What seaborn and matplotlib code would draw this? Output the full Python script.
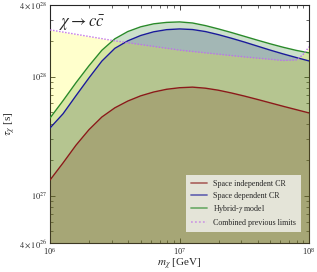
import matplotlib
matplotlib.use("Agg")
import matplotlib.pyplot as plt
import matplotlib.ticker as mticker
import seaborn as sns
import numpy as np
import pandas as pd

log_mass = [6.0, 6.1, 6.2, 6.3, 6.4, 6.5, 6.6, 6.7, 6.8, 6.9, 7.0,
            7.1, 7.2, 7.3, 7.4, 7.5, 7.6, 7.7, 7.8, 7.9, 8.0]

# log10 of the lifetime limits [s]
log_tau_hybrid = [27.652, 27.797, 27.948, 28.090, 28.221, 28.317, 28.378, 28.418, 28.443, 28.455, 28.459,
                  28.450, 28.428, 28.400, 28.370, 28.338, 28.306, 28.275, 28.246, 28.220, 28.199]
log_tau_space_dep = [27.568, 27.687, 27.839, 27.988, 28.130, 28.237, 28.300, 28.345, 28.376, 28.394, 28.400,
                     28.395, 28.378, 28.352, 28.322, 28.290, 28.256, 28.222, 28.190, 28.160, 28.131]
log_tau_space_indep = [27.131, 27.274, 27.423, 27.553, 27.660, 27.737, 27.794, 27.838, 27.870, 27.893, 27.906,
                       27.911, 27.902, 27.885, 27.862, 27.836, 27.808, 27.779, 27.750, 27.722, 27.694]

log_mass_prev = [6.0, 6.5, 7.0, 7.5, 7.8, 7.9, 7.95, 8.0]
log_tau_prev = [28.392, 28.300, 28.222, 28.165, 28.135, 28.140, 28.180, 28.250]

YMIN, YMAX = 4e26, 4e28

mass = np.power(10.0, log_mass)
mass_prev = np.power(10.0, log_mass_prev)
tau_hybrid = np.power(10.0, log_tau_hybrid)
tau_space_dep = np.power(10.0, log_tau_space_dep)
tau_space_indep = np.power(10.0, log_tau_space_indep)
tau_prev = np.power(10.0, log_tau_prev)

sns.set_style("ticks")
plt.rcParams['font.family'] = ['Liberation Serif', 'DejaVu Serif']
plt.rcParams['mathtext.fontset'] = 'stix'

fig = plt.figure(figsize=(3.17, 2.72), dpi=100)
ax = fig.add_axes([0.158, 0.107, 0.817, 0.875])

# shaded regions (yellow veil of previous limits sits over the green/blue areas)
ax.fill_between(mass, tau_hybrid, YMIN, color=(0.0, 0.4, 0.0), alpha=0.2, lw=0, zorder=1)
ax.fill_between(mass, tau_space_dep, YMIN, color=(0.0, 0.08, 0.35), alpha=0.2, lw=0, zorder=2)
ax.fill_between(mass_prev, tau_prev, YMIN, color=(1.0, 1.0, 0.0), alpha=0.2, lw=0, zorder=3)
ax.fill_between(mass, tau_space_indep, YMIN, color=(0.48, 0.30, 0.17), alpha=0.25, lw=0, zorder=4)

df = pd.DataFrame({'mass': mass, 'indep': tau_space_indep,
                   'dep': tau_space_dep, 'hybrid': tau_hybrid})
sns.lineplot(data=df, x='mass', y='indep', color='#8b1a1a', lw=1.0, ax=ax,
             label='Space independent CR', zorder=5)
sns.lineplot(data=df, x='mass', y='dep', color='#1a1a9a', lw=1.0, ax=ax,
             label='Space dependent CR', zorder=5)
sns.lineplot(data=df, x='mass', y='hybrid', color='#2a8a2a', lw=1.0, ax=ax,
             label=r'Hybrid-$\gamma$ model', zorder=5)
sns.lineplot(x=mass_prev, y=tau_prev, color='#c070e8', lw=1.0, ax=ax,
             label='Combined previous limits', zorder=5, linestyle=(0, (1, 1.2)))

ax.set_xscale('log')
ax.set_yscale('log')
ax.set_xlim(1e6, 1e8)
ax.set_ylim(YMIN, YMAX)

ax.yaxis.set_major_locator(mticker.FixedLocator([4e26, 1e27, 1e28, 4e28]))
ax.yaxis.set_major_formatter(mticker.FixedFormatter(
    [r'$4\times10^{26}$', r'$10^{27}$', r'$10^{28}$', r'$4\times10^{28}$']))
ax.yaxis.set_minor_locator(mticker.LogLocator(base=10, subs=np.arange(2, 10)))
ax.yaxis.set_minor_formatter(mticker.NullFormatter())
ax.tick_params(which='both', direction='in', top=True, right=True, labelsize=6, pad=2)
ax.tick_params(which='major', length=3.5, width=0.6)
ax.tick_params(which='minor', length=2, width=0.5)
for sp in ax.spines.values():
    sp.set_linewidth(0.8)

ax.set_xlabel(r'$m_\chi$ [GeV]', fontsize=8, labelpad=0)
ax.set_ylabel(r'$\tau_\chi$ [s]', fontsize=8, labelpad=1)

ax.text(0.035, 0.96, r'$\chi \rightarrow c\bar{c}$', transform=ax.transAxes,
        fontsize=12, va='top', ha='left', zorder=6)

leg = ax.legend(loc='lower right', fontsize=5.8, frameon=True, fancybox=False,
                handlelength=2.0, borderpad=0.6, labelspacing=0.45,
                bbox_to_anchor=(0.985, 0.03))
for h in leg.get_lines():
    h.set_alpha(0.6)
    h.set_linewidth(1.3)
leg.get_frame().set_linewidth(0)
leg.get_frame().set_facecolor('#f0f0ea')
leg.get_frame().set_alpha(0.85)
leg.set_zorder(7)

fig.savefig('out.png', dpi=100)
